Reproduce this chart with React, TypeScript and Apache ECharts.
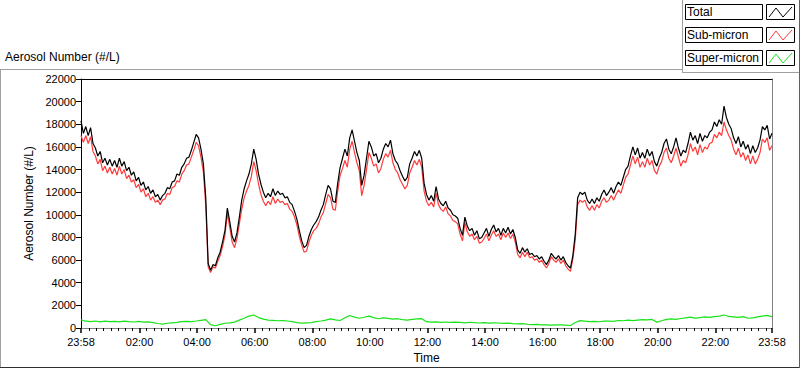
import React, { useEffect, useRef } from "react";
import * as echarts from "echarts";

// Minutes after 23:58 (start); 5-minute samples for Total and Sub-micron, 10-minute for Super-micron
const STEP_MAIN = 5;
const STEP_SUPER = 10;

const totalValues = [
  18300, 17200, 17800, 17000, 17700, 16300, 15900, 15200, 15600, 14600,
  15000, 14400, 14900, 14300, 14800, 14200, 15000, 14300, 14700, 13900,
  14200, 13500, 13800, 13000, 13300, 12600, 12900, 12200, 12500, 11900,
  12200, 11600, 11800, 11300, 11700, 11900, 12400, 12300, 12900, 13000,
  13600, 13500, 14200, 14500, 15000, 15100, 15700, 16400, 17100, 16800,
  15800, 14500, 11500, 5700, 5100, 5600, 5500, 6200, 6700, 7600,
  8600, 10600, 9400, 8100, 7600, 8400, 9800, 11300, 12300, 13000,
  13600, 14500, 15800, 14900, 13600, 12700, 12000, 11500, 11900, 11600,
  12300, 11700, 12100, 11800, 11900, 11500, 11600, 11100, 10900, 10300,
  9600, 8600, 7700, 7100, 7300, 8100, 8700, 9100, 9400, 9800,
  10400, 10900, 11800, 12600, 12300, 11200, 11100, 12800, 14200, 15000,
  15800, 15200, 16800, 17500, 16500, 15500, 14800, 12600, 13500, 15000,
  16500, 16000, 15200, 15400, 14600, 15000, 15800, 16300, 16000, 16600,
  15400, 14800, 14500, 13900, 13400, 13000, 13300, 14500, 15000, 15600,
  15200, 15700, 15000, 12800, 11800, 11300, 11700, 11200, 12500, 11400,
  11000, 10800, 11200, 10600, 10400, 10000, 9900, 9700, 8800, 8200,
  9800, 9000, 8600, 8800, 8200, 8600, 7900, 8000, 8400, 8800,
  8100, 8700, 9100, 8500, 8800, 8200, 8800, 8400, 8900, 8300,
  8700, 8000, 6900, 6600, 7100, 6700, 7000, 6500, 6600, 6300,
  6400, 6100, 6300, 5900, 5600, 6000, 6600, 6300, 6100, 6400,
  6000, 6300, 5800, 5500, 5300, 6400, 8300, 11500, 12000, 11800,
  12000, 11300, 11000, 11400, 11000, 11500, 11200, 11800, 12200, 11700,
  12000, 12400, 11900, 12500, 12900, 12600, 13300, 14000, 14300, 15200,
  16000, 15300, 15900, 15000, 15500, 15000, 15800, 15200, 15600, 14700,
  14300, 15000, 15500, 16300, 16700, 15800, 15400, 16000, 16800, 15900,
  15200, 15700, 15500, 16300, 17300, 16600, 17000, 16300, 17200, 16500,
  17000, 16800, 17300, 17500, 18200, 17800, 18400, 18000, 19600, 18600,
  18000, 17600, 16800, 16300, 16900, 16000, 16500, 15800, 16200, 15400,
  16100, 15500, 15900, 16600, 17800, 17500, 17900, 16700, 17200
];

const subMicronValues = [
  17000, 16400, 17000, 16300, 16900, 15600, 15200, 14500, 14900, 13900,
  14300, 13700, 14200, 13600, 14100, 13500, 14300, 13600, 14000, 13200,
  13500, 12900, 13100, 12400, 12700, 12000, 12300, 11600, 11900, 11300,
  11600, 11100, 11300, 10900, 11300, 11400, 11900, 11800, 12400, 12500,
  13000, 12900, 13600, 13900, 14400, 14500, 15100, 15700, 16400, 16100,
  15100, 13800, 10800, 5400, 4900, 5400, 5300, 5900, 6400, 7200,
  8200, 10100, 8900, 7600, 7100, 7900, 9200, 10500, 11500, 12100,
  12600, 13400, 14700, 13900, 12700, 11800, 11200, 10800, 11200, 10900,
  11600, 11000, 11400, 11100, 11200, 10900, 11000, 10500, 10300, 9800,
  9100, 8100, 7300, 6700, 6800, 7600, 8200, 8600, 8800, 9200,
  9800, 10200, 11000, 11800, 11500, 10500, 10400, 12100, 13500, 14100,
  14800, 14200, 15800, 16500, 15500, 14600, 13900, 11700, 12600, 14000,
  15500, 15000, 14300, 14500, 13700, 14100, 14900, 15400, 15100, 15700,
  14600, 14000, 13700, 13100, 12700, 12300, 12600, 13700, 14200, 14800,
  14400, 14900, 14200, 12100, 11200, 10800, 11100, 10700, 11900, 10900,
  10500, 10300, 10700, 10100, 9900, 9500, 9400, 9200, 8300, 7700,
  9300, 8500, 8100, 8300, 7800, 8100, 7500, 7600, 7900, 8300,
  7700, 8200, 8600, 8100, 8300, 7800, 8400, 8000, 8400, 7900,
  8300, 7600, 6500, 6200, 6700, 6300, 6700, 6200, 6300, 6000,
  6100, 5800, 6000, 5600, 5300, 5700, 6300, 6000, 5800, 6100,
  5700, 6000, 5500, 5200, 5000, 6100, 7800, 10900, 11300, 11100,
  11300, 10700, 10400, 10800, 10400, 10900, 10600, 11200, 11500, 11100,
  11300, 11700, 11300, 11800, 12200, 11900, 12600, 13300, 13600, 14400,
  15200, 14500, 15100, 14200, 14700, 14200, 15000, 14400, 14800, 13900,
  13600, 14300, 14700, 15500, 15900, 15000, 14600, 15200, 15900, 15100,
  14300, 14800, 14600, 15300, 16300, 15600, 16000, 15300, 16200, 15500,
  16000, 15800, 16300, 16400, 17100, 16800, 17300, 17000, 18200, 17500,
  17000, 16600, 15800, 15300, 15900, 15100, 15500, 14800, 15300, 14500,
  15200, 14500, 14900, 15500, 16700, 16400, 16800, 15700, 16100
];

const superMicronValues = [
  720, 600, 560, 620, 540, 600, 560, 590, 540, 600,
  560, 530, 580, 520, 540, 470, 400, 350, 420, 460,
  500, 560, 590, 570, 620, 680, 740, 300, 200, 320,
  420, 460, 520, 700, 860, 1050, 1150, 920, 780, 700,
  680, 640, 660, 620, 560, 480, 430, 460, 480, 560,
  620, 700, 800, 720, 660, 900, 1100, 960, 860, 950,
  1050, 920, 820, 900, 850, 780, 820, 740, 700, 760,
  800, 820, 560, 520, 540, 500, 530, 490, 520, 500,
  460, 510, 470, 440, 480, 430, 460, 440, 410, 430,
  380, 360, 380, 330, 300, 320, 270, 280, 260, 270,
  270, 250, 220, 480, 650, 600, 560, 590, 550, 610,
  620, 580, 660, 640, 690, 660, 700, 740, 710, 760,
  520, 640, 760, 800, 760, 840, 900, 960, 880, 920,
  980, 940, 1000, 1050, 1150, 1020, 980, 940, 1000, 860,
  900, 980, 1050, 1120, 980
];

// x-axis labels (minutes after 23:58) and their texts
const xLabelMinutes = [0, 122, 242, 362, 482, 602, 722, 842, 962, 1082, 1202, 1322, 1440];
const xLabelTexts = ["23:58", "02:00", "04:00", "06:00", "08:00", "10:00", "12:00", "14:00", "16:00", "18:00", "20:00", "22:00", "23:58"];

const seriesNames = ["Total", "Sub-micron", "Super-micron"];
const seriesColors = ["#000000", "#ff3b3b", "#17e317"];

const FONT = '"Liberation Sans", Arial, sans-serif';

export default function App() {
  const ref = useRef<HTMLDivElement>(null);

  useEffect(() => {
    if (!ref.current) return;
    const chart = echarts.init(ref.current, null, { renderer: "svg" });

    const labelMap: Record<number, string> = {};
    xLabelMinutes.forEach((m, i) => (labelMap[m] = xLabelTexts[i]));
    const minorTicks: number[] = [];
    for (let m = 17; m < 1440; m += 15) {
      if (!xLabelMinutes.includes(m)) minorTicks.push(m);
    }

    const totalData = totalValues.map((v, i) => [i * STEP_MAIN, v]);
    const subData = subMicronValues.map((v, i) => [i * STEP_MAIN, v]);
    const superData = superMicronValues.map((v, i) => [i * STEP_SUPER, v]);

    // legend graphics
    const legendTops = [4, 27, 50];
    const legendEls: any[] = [];
    seriesNames.forEach((name, k) => {
      const t = legendTops[k];
      legendEls.push({
        type: "rect",
        shape: { x: 685.5, y: t + 0.5, width: 77, height: 15 },
        style: { fill: "#fff", stroke: "#000", lineWidth: 1 },
        silent: true,
      });
      legendEls.push({
        type: "text",
        x: 687,
        y: t + 8,
        style: { text: name, font: `12px ${FONT}`, fill: "#000", verticalAlign: "middle", align: "left" },
        silent: true,
      });
      legendEls.push({
        type: "rect",
        shape: { x: 766.5, y: t + 0.5, width: 28, height: 15 },
        style: { fill: "#fff", stroke: "#000", lineWidth: 1 },
        silent: true,
      });
      legendEls.push({
        type: "polyline",
        shape: {
          points: [
            [769, t + 13],
            [776, t + 4],
            [783, t + 13],
            [792, t + 3],
          ],
        },
        style: { stroke: seriesColors[k], lineWidth: 1, fill: null },
        silent: true,
      });
    });

    const frameEls: any[] = [
      { type: "line", shape: { x1: 0, y1: 69.5, x2: 682, y2: 69.5 }, style: { stroke: "#a0a0a0", lineWidth: 1 }, silent: true },
      { type: "line", shape: { x1: 682.5, y1: 0, x2: 682.5, y2: 72 }, style: { stroke: "#a0a0a0", lineWidth: 1 }, silent: true },
      { type: "line", shape: { x1: 682, y1: 72.5, x2: 800, y2: 72.5 }, style: { stroke: "#a0a0a0", lineWidth: 1 }, silent: true },
      { type: "line", shape: { x1: 0.5, y1: 69, x2: 0.5, y2: 368 }, style: { stroke: "#a0a0a0", lineWidth: 1 }, silent: true },
      { type: "line", shape: { x1: 0, y1: 367.5, x2: 800, y2: 367.5 }, style: { stroke: "#303030", lineWidth: 1 }, silent: true },
      { type: "line", shape: { x1: 799.5, y1: 0, x2: 799.5, y2: 368 }, style: { stroke: "#606060", lineWidth: 1 }, silent: true },
      {
        type: "text",
        x: 5,
        y: 57,
        style: { text: "Aerosol Number (#/L)", font: `12px ${FONT}`, fill: "#000", verticalAlign: "middle" },
        silent: true,
      },
    ];

    chart.setOption({
      animation: false,
      backgroundColor: "#ffffff",
      textStyle: { fontFamily: FONT },
      grid: { left: 81, right: 28, top: 79, bottom: 40, containLabel: false },
      xAxis: [
        {
          type: "value",
          min: 0,
          max: 1440,
          position: "bottom",
          axisLine: { show: true, onZero: false, lineStyle: { color: "#808080", width: 1 } },
          axisTick: { show: true, customValues: xLabelMinutes, length: 5, inside: false, lineStyle: { color: "#000", width: 1.5 } },
          axisLabel: {
            show: true,
            customValues: xLabelMinutes,
            formatter: (v: number) => labelMap[v] ?? "",
            color: "#000",
            fontSize: 11,
            fontFamily: FONT,
            margin: 8,
          },
          splitLine: { show: false },
          name: "Time",
          nameLocation: "middle",
          nameGap: 24,
          nameTextStyle: { color: "#000", fontSize: 12, fontFamily: FONT },
        },
        {
          type: "value",
          min: 0,
          max: 1440,
          position: "bottom",
          axisLine: { show: false, onZero: false },
          axisTick: { show: true, customValues: minorTicks, length: 3, lineStyle: { color: "#000", width: 1 } },
          axisLabel: { show: false },
          splitLine: { show: false },
        },
        {
          type: "value",
          min: 0,
          max: 1440,
          position: "top",
          axisLine: { show: true, onZero: false, lineStyle: { color: "#000", width: 1 } },
          axisTick: { show: false },
          axisLabel: { show: false },
          splitLine: { show: false },
        },
      ],
      yAxis: [
        {
          type: "value",
          min: 0,
          max: 22000,
          interval: 2000,
          position: "left",
          axisLine: { show: true, onZero: false, lineStyle: { color: "#000", width: 1 } },
          axisTick: { show: true, length: 5, lineStyle: { color: "#000" } },
          axisLabel: {
            color: "#000",
            fontSize: 11,
            fontFamily: FONT,
            margin: 5,
            formatter: (v: number) => String(v),
          },
          splitLine: { show: false },
          name: "Aerosol Number (#/L)",
          nameLocation: "middle",
          nameGap: 43,
          nameTextStyle: { color: "#000", fontSize: 12, fontFamily: FONT },
        },
        {
          type: "value",
          min: 0,
          max: 22000,
          position: "right",
          axisLine: { show: true, onZero: false, lineStyle: { color: "#808080", width: 1 } },
          axisTick: { show: false },
          axisLabel: { show: false },
          splitLine: { show: false },
        },
      ],
      series: [
        {
          name: "Sub-micron",
          type: "line",
          xAxisIndex: 0,
          yAxisIndex: 0,
          data: subData,
          showSymbol: false,
          symbol: "none",
          lineStyle: { color: seriesColors[1], width: 1.2 },
          itemStyle: { color: seriesColors[1] },
        },
        {
          name: "Total",
          type: "line",
          xAxisIndex: 0,
          yAxisIndex: 0,
          data: totalData,
          showSymbol: false,
          symbol: "none",
          lineStyle: { color: seriesColors[0], width: 1.2 },
          itemStyle: { color: seriesColors[0] },
        },
        {
          name: "Super-micron",
          type: "line",
          xAxisIndex: 0,
          yAxisIndex: 0,
          data: superData,
          showSymbol: false,
          symbol: "none",
          lineStyle: { color: seriesColors[2], width: 1.2 },
          itemStyle: { color: seriesColors[2] },
        },
      ],
      graphic: { elements: [...frameEls, ...legendEls] },
    });

    return () => chart.dispose();
  }, []);

  return (
    <div
      ref={ref}
      style={{ position: "fixed", left: 0, top: 0, width: 800, height: 369, background: "#fff" }}
    />
  );
}
